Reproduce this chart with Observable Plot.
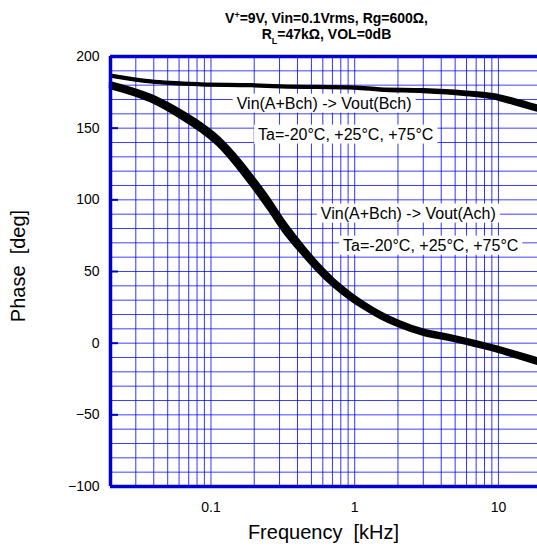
<!DOCTYPE html>
<html><head><meta charset="utf-8">
<script src="https://cdn.jsdelivr.net/npm/d3@7"></script>
<script src="https://cdn.jsdelivr.net/npm/@observablehq/plot@0.6"></script>
<style>
body{margin:0;background:#fff;font-family:"Liberation Sans",Arial,sans-serif}
#wrap{position:relative;width:537px;height:548px;overflow:hidden;background:#fff}
#title{position:absolute;left:113px;width:427px;top:10px;text-align:center;font:bold 14px "Liberation Sans",Arial,sans-serif;line-height:16px;color:#000;z-index:2}
#title sup{font-size:9px;line-height:0;vertical-align:5px}
#title sub{font-size:9px;line-height:0;vertical-align:-5px}
svg{display:block}
</style></head><body>
<div id="wrap"><div id="title">V<sup>+</sup>=9V, Vin=0.1Vrms, Rg=600Ω,<br>R<sub>L</sub>=47kΩ, VOL=0dB</div></div>
<script>
// ---- data ----
const freqAch = [0.02, 0.0383, 0.0649, 0.0853, 0.112, 0.1445, 0.19, 0.249, 0.321, 0.422, 0.553, 0.715, 0.938, 1.155, 1.516, 1.99, 3.01, 4.42, 6.7, 9.84, 13.5, 18.7];
const achM20 = [181.6, 172.6, 160.5, 152.9, 143.6, 132, 117.3, 101.5, 84.8, 69.3, 55.4, 44.1, 34.4, 28.1, 21, 15.4, 9, 5.5, 1.3, -2.9, -6.9, -11];
const ach25  = [180, 170.8, 158.3, 150.5, 141, 129, 114, 98, 81.5, 66.5, 53, 42, 32.5, 26.4, 19.4, 13.9, 7.6, 4.2, 0, -4.2, -8.3, -12.5];
const ach75  = [178.4, 169, 156.1, 148.1, 138.4, 126, 110.7, 94.5, 78.2, 63.7, 50.6, 39.9, 30.6, 24.7, 17.8, 12.4, 6.2, 2.9, -1.3, -5.5, -9.7, -14];

const freqBch = [0.02, 0.038, 0.085, 0.19, 0.306, 1, 1.5, 3.0, 5.7, 9.2, 12.7, 18.7];
const bchM20 = [187.2, 183.1, 181.1, 180.5, 179.7, 178.8, 177.6, 177, 175.5, 173.5, 170.3, 165.6];
const bch25  = [186.7, 182.6, 180.6, 180, 179.2, 178.3, 177, 176.2, 174.5, 172.2, 168.7, 164];
const bch75  = [186.2, 182.1, 180.1, 179.5, 178.7, 177.8, 176.4, 175.4, 173.5, 170.9, 167.1, 162.4];

const xDomain = [0.02, 18.7];
const yDomain = [-100, 200];
const yTicks = [-100, -50, 0, 50, 100, 150, 200];
const xTicks = [0.1, 1, 10];
const xTickLabels = ["0.1", "1", "10"];
const yGrid = d3.range(-90, 200, 10);
const xGrid = [0.01, 0.1, 1, 10].flatMap(d => [1,2,3,4,5,6,7,8,9].map(k => +(k*d).toPrecision(3))).filter(v => v > xDomain[0] && v < xDomain[1]);

const annotText = ["Vin(A+Bch) -> Vout(Bch)", "Ta=-20°C, +25°C, +75°C", "Vin(A+Bch) -> Vout(Ach)", "Ta=-20°C, +25°C, +75°C"];
const annotFreq = [0.613, 0.866, 2.36, 3.38];
const annotPhase = [167.2, 145.6, 90.5, 68.1];

const temps = ["-20", "25", "75"];
const achSeries = [achM20, ach25, ach75];
const bchSeries = [bchM20, bch25, bch75];
const achRows = achSeries.flatMap((s, i) => s.map((p, j) => ({f: freqAch[j], p, t: temps[i]})));
const bchRows = bchSeries.flatMap((s, i) => s.map((p, j) => ({f: freqBch[j], p, t: temps[i]})));
const annots = annotText.map((t, i) => ({t, f: annotFreq[i], p: annotPhase[i]}));

const blue = "#0000ff";
const font = '"Liberation Sans", Arial, sans-serif';

const chart = Plot.plot({
  width: 537, height: 548,
  marginLeft: 110, marginRight: 0, marginTop: 56, marginBottom: 62,
  style: {fontFamily: font, fontSize: "14px", color: "#000", background: "white", overflow: "hidden"},
  x: {type: "log", domain: xDomain},
  y: {domain: yDomain},
  marks: [
    Plot.ruleY(yGrid, {stroke: blue, strokeWidth: 1, strokeOpacity: 0.75}),
    Plot.ruleX(xGrid, {stroke: blue, strokeWidth: 1, strokeOpacity: 0.8}),
    Plot.text(annots, {x: "f", y: "p", text: "t", fontSize: 16, fill: "#000"}),
    Plot.line(achRows, {x: "f", y: "p", z: "t", stroke: "#000", strokeWidth: 3.6, curve: "monotone-x"}),
    Plot.line(bchRows, {x: "f", y: "p", z: "t", stroke: "#000", strokeWidth: 2.8, curve: "monotone-x"}),
    Plot.ruleX([xDomain[0]], {stroke: "#0000d0", strokeWidth: 3.5}),
    Plot.ruleY([yDomain[0], yDomain[1]], {stroke: "#0000d0", strokeWidth: 3.5}),
    Plot.axisY({ticks: yTicks, tickSize: -8, tickPadding: 19, stroke: "#0000d0", strokeWidth: 2, fontSize: 14, fill: "#000", label: null}),
    Plot.axisX({ticks: xTicks, tickSize: 0, tickPadding: 16, tickFormat: d => xTickLabels[xTicks.indexOf(d)], fontSize: 14, fill: "#000", label: null})
  ]
});
document.getElementById("wrap").appendChild(chart);

// white boxes behind annotation texts
d3.select(chart).selectAll("text").filter(function() { return annotText.includes(this.textContent); }).each(function() {
  const b = this.getBBox();
  const r = document.createElementNS("http://www.w3.org/2000/svg", "rect");
  const t = this.getAttribute("transform");
  if (t) r.setAttribute("transform", t);
  r.setAttribute("x", b.x - 4); r.setAttribute("y", b.y - 1);
  r.setAttribute("width", b.width + 8); r.setAttribute("height", b.height + 2);
  r.setAttribute("fill", "white"); r.setAttribute("stroke", "none");
  this.parentNode.insertBefore(r, this);
});

// axis titles
const sx = chart.scale("x"), sy = chart.scale("y");
const svg = d3.select(chart);
svg.append("text")
  .attr("x", (sx.range[0] + sx.range[1]) / 2).attr("y", 539)
  .attr("text-anchor", "middle").style("white-space", "pre")
  .attr("font-size", 20).attr("font-family", font).attr("fill", "#000")
  .text("Frequency  [kHz]");
svg.append("text")
  .attr("transform", `translate(25,${(sy.range[0] + sy.range[1]) / 2 - 5}) rotate(-90)`)
  .attr("text-anchor", "middle").style("white-space", "pre")
  .attr("font-size", 20).attr("font-family", font).attr("fill", "#000")
  .text("Phase  [deg]");
</script>
</body></html>
